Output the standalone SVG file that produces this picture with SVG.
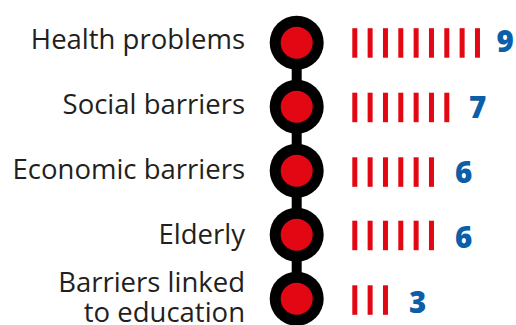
<svg xmlns="http://www.w3.org/2000/svg" width="516" height="325" viewBox="0 0 516 325">
<style>
.lbl{font-family:"Open Sans","Liberation Sans",sans-serif;font-size:27.5px;fill:#231f20;text-anchor:end}
.num{font-family:"Open Sans","Liberation Sans",sans-serif;font-size:29.5px;font-weight:800;fill:#0b5ea8}
.ring{fill:#000}
.dot{fill:#e30613}
.bar{fill:#e30613}
</style>
<defs>
<g id="node">
<circle class="ring" r="27"/>
<circle class="dot" r="16"/>
</g>
<rect id="b" class="bar" width="5" height="29.5"/>
</defs>
<rect width="516" height="325" fill="#fff"/>
<g id="connectors">
<line x1="296.7" y1="42.7" x2="296.7" y2="298.7" stroke="#000" stroke-width="10"/>
</g>
<g id="health">
<text class="lbl" x="245" y="48.5">Health problems</text>
<use href="#node" x="296.7" y="42.7"/>
<g transform="translate(352.3,28.2)">
<use href="#b" x="0"/><use href="#b" x="15.33"/><use href="#b" x="30.67"/><use href="#b" x="46"/><use href="#b" x="61.33"/><use href="#b" x="76.67"/><use href="#b" x="92"/><use href="#b" x="107.33"/><use href="#b" x="122.67"/>
</g>
<text class="num" x="496.5" y="52">9</text>
</g>
<g id="social">
<text class="lbl" x="245" y="113.8">Social barriers</text>
<use href="#node" x="296.7" y="106.7"/>
<g transform="translate(352.3,92.7)">
<use href="#b" x="0"/><use href="#b" x="15.33"/><use href="#b" x="30.67"/><use href="#b" x="46"/><use href="#b" x="61.33"/><use href="#b" x="76.67"/><use href="#b" x="92"/>
</g>
<text class="num" x="469" y="118.3">7</text>
</g>
<g id="economic">
<text class="lbl" x="245" y="178.5">Economic barriers</text>
<use href="#node" x="296.7" y="170.7"/>
<g transform="translate(352.3,157.3)">
<use href="#b" x="0"/><use href="#b" x="15.33"/><use href="#b" x="30.67"/><use href="#b" x="46"/><use href="#b" x="61.33"/><use href="#b" x="76.67"/>
</g>
<text class="num" x="455" y="183.3">6</text>
</g>
<g id="elderly">
<text class="lbl" x="245" y="244">Elderly</text>
<use href="#node" x="296.7" y="234.7"/>
<g transform="translate(352.3,220.7)">
<use href="#b" x="0"/><use href="#b" x="15.33"/><use href="#b" x="30.67"/><use href="#b" x="46"/><use href="#b" x="61.33"/><use href="#b" x="76.67"/>
</g>
<text class="num" x="455" y="248.3">6</text>
</g>
<g id="education">
<text class="lbl" x="245" y="292">Barriers linked</text>
<text class="lbl" x="245" y="321.5">to education</text>
<use href="#node" x="296.7" y="298.7"/>
<g transform="translate(352.3,285.3)">
<use href="#b" x="0"/><use href="#b" x="15.33"/><use href="#b" x="30.67"/>
</g>
<text class="num" x="409" y="312.7">3</text>
</g>
</svg>
